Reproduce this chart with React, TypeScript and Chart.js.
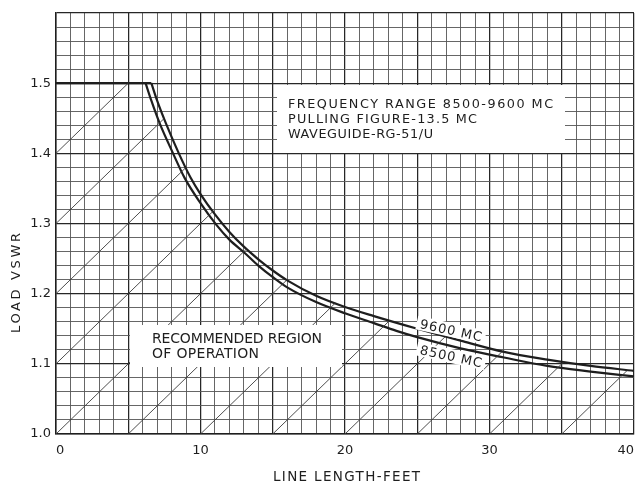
import React, { useEffect, useRef } from 'react';
import { Chart, registerables } from 'chart.js';

Chart.register(...registerables);

// ---- Axis ticks ----
const xTickValues = [0, 10, 20, 30, 40];
const xTickLabels = ['0', '10', '20', '30', '40'];
const yTickValues = [1.0, 1.1, 1.2, 1.3, 1.4, 1.5];
const yTickLabels = ['1.0', '1.1', '1.2', '1.3', '1.4', '1.5'];

// ---- Curves (line length in feet vs load VSWR) ----
const len9600 = [6.6, 7.0, 7.6, 8.5, 9.3, 10, 11, 12, 13, 14, 15, 16, 18, 20, 22, 25, 28, 31, 34, 37, 40];
const vswr9600 = [1.5, 1.475, 1.443, 1.4, 1.366, 1.342, 1.313, 1.288, 1.267, 1.249, 1.233, 1.219, 1.197, 1.181, 1.168, 1.15, 1.133, 1.117, 1.106, 1.097, 1.09];
const len8500 = [6.2, 6.6, 7.17, 8.1, 8.9, 10, 11.1, 12, 13.06, 14, 15.1, 16, 18, 20, 22, 23.56, 25, 28, 31, 34, 37, 40];
const vswr8500 = [1.5, 1.475, 1.443, 1.4, 1.365, 1.329, 1.298, 1.277, 1.258, 1.24, 1.222, 1.209, 1.188, 1.172, 1.158, 1.147, 1.138, 1.122, 1.109, 1.097, 1.089, 1.082];

// ---- Recommended region (hatched) ----
const regionTopVswr = 1.5;
const hatchOrigins = [-20, -15, -10, -5, 0, 5, 10, 15, 20, 25, 30, 35]; // length where each hatch line meets VSWR 1.0
const hatchRise = 0.1;
const hatchRun = 5;

// ---- Texts ----
const infoLines = ['FREQUENCY RANGE 8500-9600 MC', 'PULLING FIGURE-13.5 MC', 'WAVEGUIDE-RG-51/U'];
const regionLines = ['RECOMMENDED REGION', 'OF OPERATION'];
const curveLabels = ['9600 MC', '8500 MC'];
const xTitle = 'LINE LENGTH-FEET';
const yTitle = 'LOAD VSWR';

const FONT = '"DejaVu Sans", "Liberation Sans", sans-serif';
const INK = '#1e1e1e';

function upperLimit(x: number): number {
  if (x <= len9600[0]) return regionTopVswr;
  for (let i = 1; i < len9600.length; i++) {
    if (x <= len9600[i]) {
      const t = (x - len9600[i - 1]) / (len9600[i] - len9600[i - 1]);
      return vswr9600[i - 1] + t * (vswr9600[i] - vswr9600[i - 1]);
    }
  }
  return vswr9600[vswr9600.length - 1];
}

function hatchSegment(x0: number) {
  const slope = hatchRise / hatchRun;
  const sx = Math.max(0, x0);
  const sy = 1.0 + slope * (sx - x0);
  let x = sx;
  while (x < 40 && 1.0 + slope * (x - x0) < upperLimit(x)) x += 0.005;
  x = Math.min(x, 40);
  return [{ x: sx, y: sy }, { x, y: 1.0 + slope * (x - x0) }];
}

function near(a: number, b: number) {
  return Math.abs(a - b) < 1e-6;
}

function fitText(ctx: CanvasRenderingContext2D, text: string, x: number, y: number, width: number) {
  (ctx as any).letterSpacing = '0px';
  const w = ctx.measureText(text).width;
  const ls = text.length > 1 ? (width - w) / (text.length - 1) : 0;
  (ctx as any).letterSpacing = ls.toFixed(2) + 'px';
  ctx.textAlign = 'left';
  ctx.fillText(text, x, y);
  (ctx as any).letterSpacing = '0px';
}

const annotationPlugin = {
  id: 'annotations',
  afterDatasetsDraw(chart: any) {
    const ctx: CanvasRenderingContext2D = chart.ctx;
    ctx.save();
    ctx.fillStyle = '#ffffff';
    ctx.fillRect(277, 85, 288, 68);
    ctx.fillRect(130, 325, 212, 42);
    ctx.fillStyle = INK;
    ctx.textBaseline = 'alphabetic';
    ctx.font = `12.8px ${FONT}`;
    fitText(ctx, infoLines[0], 288, 107.7, 265);
    fitText(ctx, infoLines[1], 288, 123.3, 189);
    fitText(ctx, infoLines[2], 288, 138.3, 145);
    ctx.font = `14px ${FONT}`;
    fitText(ctx, regionLines[0], 152, 343.3, 170);
    fitText(ctx, regionLines[1], 152, 357.7, 107);

    const ang = 0.215;
    const labelPos = [
      [451, 330],
      [451, 356],
    ];
    ctx.font = `13px ${FONT}`;
    for (let i = 0; i < curveLabels.length; i++) {
      ctx.save();
      ctx.translate(labelPos[i][0], labelPos[i][1]);
      ctx.rotate(ang);
      ctx.fillStyle = '#ffffff';
      ctx.fillRect(-35, -7, 70, 14);
      ctx.fillStyle = INK;
      fitText(ctx, curveLabels[i], -31.5, 4.8, 63);
      ctx.restore();
    }

    ctx.font = `13.5px ${FONT}`;
    fitText(ctx, xTitle, 273, 481, 147);
    ctx.save();
    ctx.translate(20, 283);
    ctx.rotate(-Math.PI / 2);
    ctx.font = `13px ${FONT}`;
    fitText(ctx, yTitle, -50, 0, 100);
    ctx.restore();
    ctx.restore();
  },
};

export default function App() {
  const ref = useRef<HTMLCanvasElement | null>(null);

  useEffect(() => {
    if (!ref.current) return;
    const hatchSets = hatchOrigins.map((x0) => ({
      data: hatchSegment(x0),
      showLine: true,
      borderColor: '#3a3a3a',
      borderWidth: 0.9,
      pointRadius: 0,
      fill: false,
    }));
    const chart = new Chart(ref.current, {
      type: 'scatter',
      data: {
        datasets: [
          ...hatchSets,
          {
            data: [
              { x: 0, y: regionTopVswr },
              { x: len9600[0], y: regionTopVswr },
            ],
            showLine: true,
            borderColor: INK,
            borderWidth: 2.2,
            pointRadius: 0,
          },
          {
            label: '9600 MC',
            data: len9600.map((x, i) => ({ x, y: vswr9600[i] })),
            showLine: true,
            borderColor: INK,
            borderWidth: 2.2,
            pointRadius: 0,
            cubicInterpolationMode: 'monotone',
          },
          {
            label: '8500 MC',
            data: len8500.map((x, i) => ({ x, y: vswr8500[i] })),
            showLine: true,
            borderColor: INK,
            borderWidth: 2.2,
            pointRadius: 0,
            cubicInterpolationMode: 'monotone',
          },
        ] as any,
      },
      options: {
        animation: false,
        responsive: false,
        layout: { padding: { top: 13, right: 3, left: 0, bottom: 0 } },
        plugins: { legend: { display: false }, tooltip: { enabled: false } },
        scales: {
          x: {
            type: 'linear',
            min: 0,
            max: 40,
            afterFit: (s: any) => {
              s.height = 48;
            },
            ticks: {
              stepSize: 1,
              autoSkip: false,
              maxRotation: 0,
              align: 'inner',
              padding: 9,
              color: INK,
              font: { family: FONT, size: 13 },
              callback: (v: any) => {
                const i = xTickValues.findIndex((t) => near(t, Number(v)));
                return i >= 0 ? xTickLabels[i] : '';
              },
            },
            grid: {
              drawTicks: false,
              color: (c: any) => (c.tick && Math.round(c.tick.value) % 5 === 0 ? '#262626' : '#555555'),
              lineWidth: (c: any) => (c.tick && Math.round(c.tick.value) % 5 === 0 ? 1.25 : 0.9),
            },
            border: { display: true, color: INK, width: 1.5 },
          },
          y: {
            type: 'linear',
            min: 1.0,
            max: 1.6,
            afterFit: (s: any) => {
              s.width = 56;
            },
            ticks: {
              stepSize: 0.02,
              autoSkip: false,
              padding: 5,
              color: INK,
              font: { family: FONT, size: 13 },
              callback: (v: any) => {
                const i = yTickValues.findIndex((t) => near(t, Number(v)));
                return i >= 0 ? yTickLabels[i] : '';
              },
            },
            grid: {
              drawTicks: false,
              color: (c: any) => {
                const v = c.tick ? c.tick.value * 10 : 0;
                return near(v, Math.round(v)) ? '#262626' : '#555555';
              },
              lineWidth: (c: any) => {
                const v = c.tick ? c.tick.value * 10 : 0;
                return near(v, Math.round(v)) ? 1.25 : 0.9;
              },
            },
            border: { display: true, color: INK, width: 1.5 },
          },
        },
      } as any,
      plugins: [annotationPlugin],
    });
    return () => chart.destroy();
  }, []);

  return (
    <div style={{ position: 'fixed', left: 0, top: 0, width: 643, height: 482, background: '#fff' }}>
      <canvas ref={ref} width={643} height={482} style={{ display: 'block' }} />
    </div>
  );
}
